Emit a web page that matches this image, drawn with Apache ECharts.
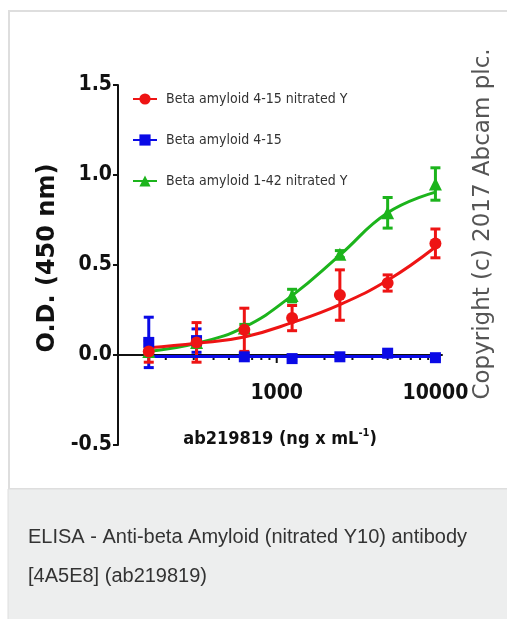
<!DOCTYPE html>
<html>
<head>
<meta charset="utf-8">
<script src="https://cdn.jsdelivr.net/npm/echarts@6/dist/echarts.min.js"></script>
<style>
  html, body { margin: 0; padding: 0; background: #fff; }
  #chart { width: 507px; height: 619px; }
</style>
</head>
<body>
<div id="chart"></div>
<script>
// concentrations (ng/mL), 2-fold dilutions
var conc = [156.25, 312.5, 625, 1250, 2500, 5000, 10000];

// Beta amyloid 4-15 nitrated Y
var redMean = [0.02, 0.07, 0.14, 0.205, 0.333, 0.40, 0.62];
var redErr  = [0.06, 0.11, 0.12, 0.07, 0.14, 0.045, 0.08];
var redFit  = [0.04, 0.065, 0.10, 0.18, 0.28, 0.415, 0.60];

// Beta amyloid 4-15
var blueMean = [0.07, 0.08, -0.01, -0.02, -0.01, 0.01, -0.015];
var blueErr  = [0.14, 0.065, 0.01, 0.01, 0.01, 0.01, 0.01];
var blueFit  = [-0.008, -0.008, -0.008, -0.008, -0.008, -0.008, -0.008];

// Beta amyloid 1-42 nitrated Y
var greenMean = [0.02, 0.07, 0.15, 0.33, 0.56, 0.79, 0.95];
var greenErr  = [0.01, 0.02, 0.02, 0.035, 0.02, 0.085, 0.09];
var greenFit  = [0.02, 0.065, 0.155, 0.33, 0.555, 0.79, 0.905];

var xMajorTicks = [1000, 10000];
var xMinorTicks = [200, 300, 400, 500, 600, 700, 800, 900, 2000, 3000, 4000, 5000, 6000, 7000, 8000, 9000];

var names = ['Beta amyloid 4-15 nitrated Y', 'Beta amyloid 4-15', 'Beta amyloid 1-42 nitrated Y'];
var RED = '#ee1414', BLUE = '#0a0ae6', GREEN = '#1cb41c';
var NARROW = '"DejaVu Sans Condensed", "Liberation Sans", sans-serif';

function pairs(ys) {
    return conc.map(function(x, i){ return [x, ys[i]]; });
}

function fitSeries(name, ys, color, symbol) {
    return {
        name: name, type: 'line', data: pairs(ys),
        smooth: 0.45, showSymbol: false, symbol: symbol, symbolSize: 11,
        lineStyle: { color: color, width: 3 },
        itemStyle: { color: color },
        silent: true, z: 3
    };
}

function errSeries(name, mean, err, color) {
    return {
        name: name, type: 'custom',
        data: conc.map(function(x, i){ return [x, mean[i] - err[i], mean[i] + err[i]]; }),
        encode: { x: 0, y: [1, 2] },
        renderItem: function(params, api){
            var lo = api.coord([api.value(0), api.value(1)]);
            var hi = api.coord([api.value(0), api.value(2)]);
            var w = 5;
            var st = { stroke: color, lineWidth: 3 };
            return {
                type: 'group',
                children: [
                    { type: 'line', shape: { x1: lo[0], y1: lo[1], x2: hi[0], y2: hi[1] }, style: st },
                    { type: 'line', shape: { x1: lo[0] - w, y1: lo[1], x2: lo[0] + w, y2: lo[1] }, style: st },
                    { type: 'line', shape: { x1: hi[0] - w, y1: hi[1], x2: hi[0] + w, y2: hi[1] }, style: st }
                ]
            };
        },
        silent: true, z: 3
    };
}

function pointSeries(name, mean, color, symbol, size) {
    return {
        name: name, type: 'scatter', data: pairs(mean),
        symbol: symbol, symbolSize: size,
        itemStyle: { color: color, opacity: 1 },
        silent: true, z: 4
    };
}

function tickSeries(vals, len) {
    return {
        type: 'scatter', silent: true, z: 2,
        data: vals.map(function(v){ return [v, 0]; }),
        symbol: 'rect', symbolSize: [2, len], symbolOffset: [0, len / 2],
        itemStyle: { color: '#111', opacity: 1 }
    };
}

var chart = echarts.init(document.getElementById('chart'));
var option = {
    animation: false,
    textStyle: { fontFamily: NARROW },
    graphic: [
        { type: 'rect', z: -10, shape: { x: 9, y: 11, width: 510, height: 478 },
          style: { fill: '#fff', stroke: '#dedede', lineWidth: 2 } },
        { type: 'rect', z: -10, shape: { x: 8, y: 489, width: 510, height: 140 },
          style: { fill: '#edeeee', stroke: '#dedede', lineWidth: 1 } },
        { type: 'text', z: 10, x: 28, y: 537,
          style: { text: 'ELISA - Anti-beta Amyloid (nitrated Y10) antibody', fill: '#333',
                   font: '20px "Liberation Sans"', verticalAlign: 'middle' } },
        { type: 'text', z: 10, x: 28, y: 576,
          style: { text: '[4A5E8] (ab219819)', fill: '#333',
                   font: '20px "Liberation Sans"', verticalAlign: 'middle' } },
        { type: 'text', z: 10, x: 483, y: 224, rotation: Math.PI / 2,
          style: { text: 'Copyright (c) 2017 Abcam plc.', fill: '#555',
                   font: '23px "DejaVu Sans"', align: 'center', verticalAlign: 'middle' } }
    ],
    grid: { left: 118, top: 85, width: 324, height: 360 },
    legend: {
        data: names, orient: 'vertical', left: 127, top: 87,
        itemWidth: 24, itemHeight: 14, itemGap: 27, selectedMode: false,
        textStyle: { fontFamily: NARROW, fontSize: 14, color: '#333', padding: [0, 0, 0, 4] }
    },
    xAxis: {
        type: 'log', logBase: 10, min: 100, max: 11000,
        axisLine: { onZero: true, lineStyle: { color: '#111', width: 2 } },
        axisTick: { show: false },
        splitLine: { show: false },
        axisLabel: {
            margin: -62, color: '#111', fontSize: 21, fontWeight: 'bold', fontFamily: NARROW,
            showMinLabel: false, showMaxLabel: false,
            formatter: function(v){ return xMajorTicks.indexOf(v) >= 0 ? String(v) : ''; }
        },
        name: '{a|ab219819 (ng x mL}{s|-1}{a|)}',
        nameLocation: 'middle', nameGap: -17,
        nameTextStyle: {
            rich: {
                a: { fontFamily: NARROW, fontWeight: 'bold', fontSize: 18, color: '#111' },
                s: { fontFamily: NARROW, fontWeight: 'bold', fontSize: 11, color: '#111',
                     verticalAlign: 'top', padding: [0, 0, 11, 0] }
            }
        }
    },
    yAxis: {
        type: 'value', min: -0.5, max: 1.5, interval: 0.5,
        axisLine: { lineStyle: { color: '#111', width: 2 } },
        axisTick: { show: true, length: 5, lineStyle: { width: 2, color: '#111' } },
        splitLine: { show: false },
        axisLabel: {
            margin: 6, color: '#111', fontSize: 21, fontWeight: 'bold', fontFamily: NARROW,
            formatter: function(v){ return v.toFixed(1); }
        },
        name: 'O.D. (450 nm)', nameLocation: 'middle', nameGap: 54,
        nameTextStyle: { fontFamily: 'DejaVu Sans', fontWeight: 'bold', fontSize: 24, color: '#111',
                         padding: [0, 0, 0, 14] }
    },
    series: [
        tickSeries(xMinorTicks, 5),
        tickSeries(xMajorTicks, 8),
        fitSeries(names[2], greenFit, GREEN, 'triangle'),
        errSeries(names[2], greenMean, greenErr, GREEN),
        pointSeries(names[2], greenMean, GREEN, 'triangle', 13),
        fitSeries(names[1], blueFit, BLUE, 'rect'),
        errSeries(names[1], blueMean, blueErr, BLUE),
        pointSeries(names[1], blueMean, BLUE, 'rect', 11),
        fitSeries(names[0], redFit, RED, 'circle'),
        errSeries(names[0], redMean, redErr, RED),
        pointSeries(names[0], redMean, RED, 'circle', 12)
    ]
};
chart.setOption(option);
</script>
</body>
</html>
